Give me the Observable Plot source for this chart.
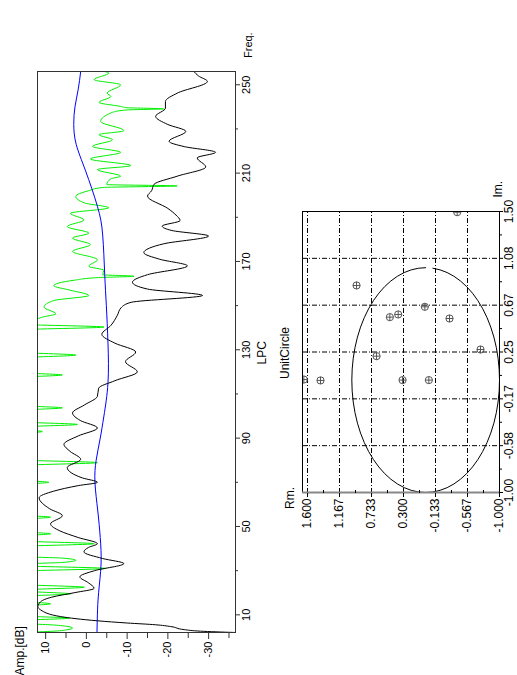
<!DOCTYPE html>
<html><head><meta charset="utf-8">
<script src="https://cdn.jsdelivr.net/npm/d3@7"></script>
<script src="https://cdn.jsdelivr.net/npm/@observablehq/plot@0.6"></script>
<style>
html,body{margin:0;padding:0;background:#fff;overflow:hidden;width:517px;height:675px;}
#page{position:absolute;left:0;top:0;width:675px;height:517px;transform-origin:0 0;transform:translate(0px,675px) rotate(-90deg);font-family:"Liberation Sans",Arial,sans-serif;}
#page svg{position:absolute;left:0;}
.lbl{position:absolute;font-size:11px;line-height:13px;color:#000;white-space:nowrap;}
</style></head><body><div id="page"></div><script>
// ---------- LPC spectrum data ----------
const freqTicks = [10, 50, 90, 130, 170, 210, 250];
const freqMinor = [30, 70, 110, 150, 190, 230];
const ampTicks = [10, 0, -10, -20, -30];
const ampMinor = [5, -5, -15, -25, -35];

const blackFreq = [2, 2.6, 3.3, 4.7, 5.5, 6.3, 7.3, 9.2, 12.2, 13.7, 16, 18, 20, 22, 24.5, 27.2, 30, 33.2, 35.5, 38.5, 40.5, 42.2, 45, 48, 51.2, 54.9, 58, 63, 66, 68.5, 70, 72, 76.7, 80.4, 84, 87.2, 91, 94.6, 98, 101.4, 105, 108.9, 112.6, 116, 120, 124.6, 129, 133, 137, 141, 145.6, 149, 151.5, 154.6, 157.5, 160.6, 164, 168, 171, 174, 178, 181.5, 184, 186, 188.5, 191, 194, 199.6, 202, 204.9, 208.6, 212.8, 216.9, 219.4, 222, 224.4, 228.9, 232, 235.7, 239.4, 242.4, 246.2, 251.5, 254, 256];
const blackAmp = [-36.5, -28, -24, -20.7, -17, -10, -2.7, 6.3, 11.2, 11.9, 11.2, 8.5, 3, -1.9, -0.5, 1.6, -2, -9.2, -4, 0.6, -0.5, -2.7, 2, 6.5, 8.8, 5.9, 9, 11.6, 8, 2, -2.7, 1, 4.7, 1.4, 4, 5.5, 2, -2.7, 1.5, 3.4, 0.5, -2.7, -3, -7, -12.5, -9.6, -12.1, -7, -3.8, -6, -7.6, -8.5, -11, -28.5, -15, -11.3, -15, -24.8, -18, -14.1, -19, -30, -21, -18.6, -23, -22, -20, -15, -16, -16.6, -22.3, -29.3, -27.2, -31.7, -24, -20.3, -24.4, -20, -17, -19.4, -19.4, -22.3, -29.7, -27.5, -26.4];

const greenFreq = [2, 2.6, 3.3, 4, 4.7, 5.4, 6.2, 7.4, 8.5, 9.6, 13.8, 15, 16.2, 18.3, 19.5, 20.7, 21.3, 22.5, 23.8, 29.7, 31, 32.3, 33, 33.7, 34.7, 35.7, 36.4, 40.9, 42.2, 43.5, 45.7, 46.7, 47.7, 53.2, 54.2, 55.2, 69, 70, 71, 77.6, 78.9, 80.2, 92, 93, 94, 95, 96.2, 97.4, 102.6, 103.7, 104.8, 117.5, 118.6, 119.7, 126.3, 127.6, 128.9, 139, 140.3, 141.6, 142.5, 144.7, 146.3, 149.3, 152.3, 154.6, 157, 159, 161.5, 162.7, 163.3, 164, 166, 167.8, 170.8, 174.6, 177.6, 180.6, 182.8, 185.8, 188.8, 191.8, 194.3, 196.5, 199.5, 202, 203.5, 204.2, 204.8, 207.4, 208.6, 211.6, 213.4, 216.4, 219.4, 222.1, 225.1, 227.4, 229.2, 233.4, 237.5, 238.6, 239.1, 239.6, 240.2, 242, 244.7, 246.2, 250, 252.3, 255.3, 256];
const greenAmp = [16, 8, 4.5, 3.4, 4.5, 8, 16, 16, 4.2, 16, 16, 8.8, 16, 16, 3.9, 14, 14, 0.5, 16, 16, -4.7, 16, 16, 6, 2.6, 6, 16, 16, -1.9, 16, 16, 8.8, 16, 16, 8.8, 16, 16, 9.2, 16, 16, -2.7, 16, 16, 10.8, 16, 16, 2.2, 16, 16, 5.9, 16, 16, 5.9, 16, 16, 2.6, 16, 16, -4.3, 16, 14, 11, 7.5, 10.4, 8, -0.6, 4, 8, 3, -3, -11.7, -4, -4.3, -0.6, -2.7, 3.4, -1, 3.4, -0.6, 4.7, 0.6, 3.9, -5.5, 0.5, 2.6, -0.5, -4, -22.3, -5, -6, -8.4, -2.7, -10.9, -1, -8.4, -1.5, -6.4, -3.1, -9.2, -3.5, -6.4, -10, -19, -10, -8.4, -3.1, -6, -5.1, -8.4, -1.9, -5.5, -4.5];

const blueFreq = [2, 10, 20, 33, 45, 57, 70, 80, 90, 100, 115, 133, 150, 164, 182, 195, 211, 223, 232, 240, 248, 256];
const blueAmp = [-2.6, -2.7, -3.0, -3.6, -3.4, -2.8, -2.1, -2.4, -3.4, -4.3, -5.3, -5.3, -4.9, -4.5, -4.0, -2.7, 0.2, 2.5, 3.1, 2.8, 2.0, 1.4];

// ---------- Unit circle data ----------
const imTicks = [-1, -0.5833, -0.1667, 0.25, 0.6667, 1.0833, 1.5];
const imLabels = ["-1.00", "-0.58", "-0.17", "0.25", "0.67", "1.08", "1.50"];
const imMinor = [-0.7917, -0.375, 0.0417, 0.4583, 0.875, 1.2917];
const rmTicks = [1.6, 1.1667, 0.7333, 0.3, -0.1333, -0.5667, -1];
const rmLabels = ["1.600", "1.167", "0.733", "0.300", "-0.133", "-0.567", "-1.000"];
const rmMinor = [1.3833, 0.95, 0.5167, 0.0833, -0.35, -0.7833];
const rootsIm = [0.842, 0.560, 0.584, 0.652, 0.548, 1.494, 0.005, -0.003, 0.213, 0.0, 0.0, 0.272];
const rootsRm = [0.936, 0.485, 0.372, 0.011, -0.323, -0.427, 1.650, 1.424, 0.665, 0.313, -0.043, -0.743];

// ---------- build ----------
const idx = a => a.map((_, i) => i);
const page = document.getElementById("page");
const font = "Liberation Sans, Arial, sans-serif";

const topChart = Plot.plot({
  width: 675, height: 270,
  marginLeft: 42, marginRight: 72, marginTop: 37, marginBottom: 35,
  style: {fontFamily: font, fontSize: "11px", color: "#000", background: "transparent", overflow: "visible"},
  x: {domain: [2, 256]},
  y: {domain: [-36.6, 12]},
  marks: [
    Plot.line(idx(greenFreq), {x: i => greenFreq[i], y: i => greenAmp[i], stroke: "#00ee00", strokeWidth: 1, curve: "monotone-x", clip: true}),
    Plot.line(idx(blueFreq), {x: i => blueFreq[i], y: i => blueAmp[i], stroke: "#0000ff", strokeWidth: 1, curve: "natural", clip: true}),
    Plot.line(idx(blackFreq), {x: i => blackFreq[i], y: i => blackAmp[i], stroke: "#000", strokeWidth: 1, curve: "monotone-x", clip: true}),
    Plot.frame({stroke: "#333"}),
    Plot.axisY({ticks: ampTicks, tickSize: 6, tickPadding: 3, tickFormat: d => String(d), label: null, stroke: "#333"}),
    Plot.axisY({ticks: ampMinor, tickSize: 5, tickFormat: () => "", label: null, stroke: "#333"}),
    Plot.axisX({ticks: freqTicks, tickSize: 5, tickPadding: 2, tickFormat: d => String(d), label: null, stroke: "#333"}),
    Plot.axisX({ticks: freqMinor, tickSize: 3, tickFormat: () => "", label: null, stroke: "#333"})
  ]
});
topChart.style.top = "0px";
page.appendChild(topChart);

const theta = d3.range(64).map(k => k * 2 * Math.PI / 64);
const circle = theta.map(t => ({im: Math.cos(t), rm: Math.sin(t)}));
const circlePlus = {
  draw(context, size) {
    const r = Math.sqrt(size / Math.PI);
    context.moveTo(r, 0);
    context.arc(0, 0, r, 0, 2 * Math.PI);
    context.moveTo(-r, 0); context.lineTo(r, 0);
    context.moveTo(0, -r); context.lineTo(0, r);
  }
};
const dash = "5,2,1,2";
const botChart = Plot.plot({
  width: 675, height: 247,
  marginLeft: 182, marginRight: 212, marginTop: 32, marginBottom: 18,
  style: {fontFamily: font, fontSize: "12px", color: "#000", background: "transparent", overflow: "visible"},
  x: {domain: [-1, 1.5]},
  y: {domain: [-1, 1.668]},
  marks: [
    Plot.ruleX(imTicks.slice(1), {x: d => d, stroke: "#000", strokeDasharray: dash}),
    Plot.ruleY(rmTicks.slice(0, -1), {y: d => d, stroke: "#000", strokeDasharray: dash}),
    Plot.line(circle, {x: "im", y: "rm", stroke: "#000", strokeWidth: 1}),
    Plot.dot(idx(rootsIm), {x: i => rootsIm[i], y: i => rootsRm[i], r: 3.6, symbol: circlePlus, fill: "none", stroke: "#555", strokeWidth: 1, clip: true}),
    Plot.frame({stroke: "#000"}),
    Plot.ruleX([-1], {stroke: "#888", strokeWidth: 2}),
    Plot.axisY({ticks: rmTicks, tickSize: 4, tickPadding: 2, tickFormat: d => rmLabels[rmTicks.indexOf(d)], label: null}),
    Plot.axisY({ticks: rmMinor, tickSize: -3, tickFormat: () => "", label: null}),
    Plot.axisX({ticks: imTicks, tickSize: 4, tickPadding: 1, tickFormat: d => imLabels[imTicks.indexOf(d)], label: null}),
    Plot.axisX({ticks: imMinor, tickSize: 3, tickFormat: () => "", label: null})
  ]
});
botChart.style.top = "270px";
page.appendChild(botChart);

function label(text, cx, cy, size) {
  const d = document.createElement("div");
  d.className = "lbl";
  d.textContent = text;
  if (size) d.style.fontSize = size + "px";
  page.appendChild(d);
  const w = d.offsetWidth, h = d.offsetHeight;
  d.style.left = (cx - w / 2) + "px";
  d.style.top = (cy - h / 2) + "px";
}
label("Amp.[dB]", 24, 20, 12);
label("Freq.", 630, 248, 11);
label("LPC", 322, 262, 12);
label("UnitCircle", 322, 285, 12);
label("Rm.", 177, 290, 12);
label("Im.", 486, 498, 12);
</script></body></html>
